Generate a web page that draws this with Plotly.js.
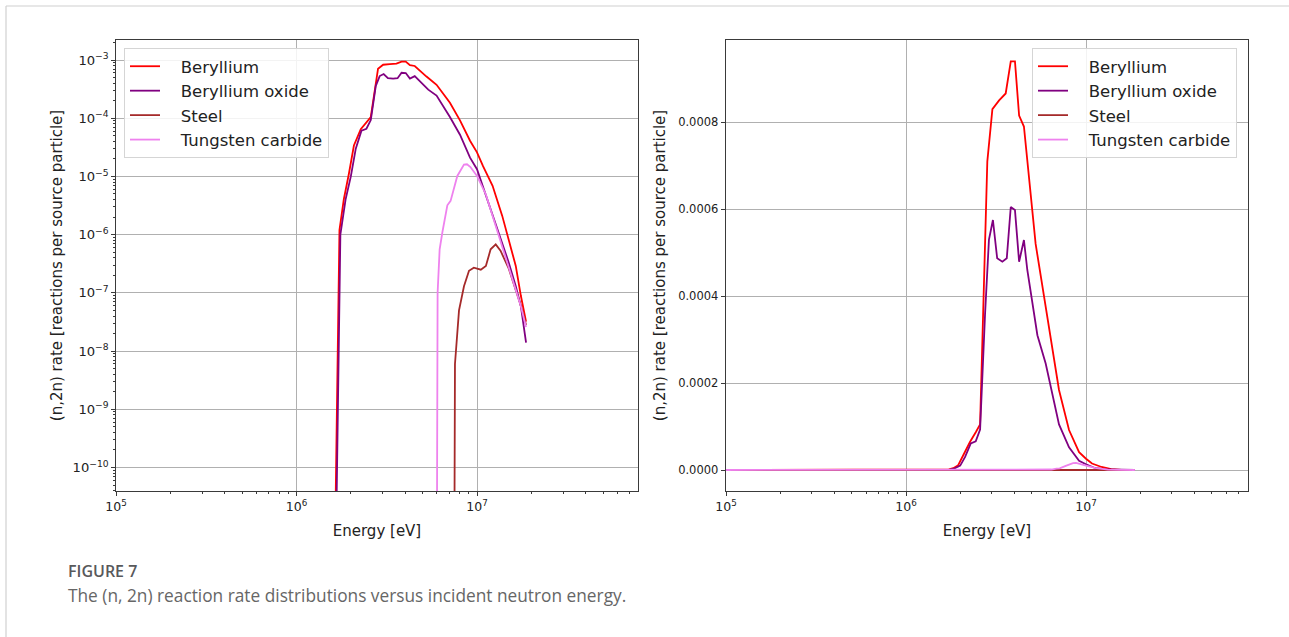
<!DOCTYPE html>
<html>
<head>
<meta charset="utf-8">
<script src="https://cdn.plot.ly/plotly-3.0.1.min.js"></script>
<style>
html,body{margin:0;padding:0;background:#fff;}
#chart{width:1289px;height:637px;}
</style>
</head>
<body>
<div id="chart"></div>
<script>
// ---- Data (energy in eV, rate in reactions per source particle) ----
const seriesNames = ["Beryllium", "Beryllium oxide", "Steel", "Tungsten carbide"];
const seriesColors = ["#ff0000", "#800080", "#a52a2a", "#ee82ee"];

const berylliumE = [1e5, 1.0e6, 1.64e6, 1.73e6, 1.83e6, 1.95e6, 2.08e6, 2.27e6, 2.45e6, 2.58e6, 2.83e6, 3.02e6, 3.29e6, 3.58e6, 3.82e6, 4.03e6, 4.25e6, 4.52e6, 5.25e6, 5.97e6, 7.08e6, 8.05e6, 9.15e6, 1.0e7, 1.08e7, 1.22e7, 1.38e7, 1.57e7, 1.64e7, 1.75e7, 1.87e7];
const berylliumRate = [0, 0, 0, 1.2e-6, 4.1e-6, 1.1e-5, 3.4e-5, 6.5e-5, 8.8e-5, 1.05e-4, 7.1e-4, 8.3e-4, 8.5e-4, 8.66e-4, 9.4e-4, 9.4e-4, 8.15e-4, 7.9e-4, 5.2e-4, 3.75e-4, 1.84e-4, 9.2e-5, 4.1e-5, 2.6e-5, 1.5e-5, 6.9e-6, 2.1e-6, 4.9e-7, 2.9e-7, 8.9e-8, 3.2e-8];

const berylliumOxideE = [1e5, 1.0e6, 1.66e6, 1.75e6, 1.87e6, 2.0e6, 2.13e6, 2.29e6, 2.44e6, 2.58e6, 2.75e6, 2.89e6, 3.04e6, 3.21e6, 3.43e6, 3.63e6, 3.82e6, 4.03e6, 4.25e6, 4.52e6, 4.72e6, 5.37e6, 5.97e6, 7.08e6, 8.05e6, 9.15e6, 1.0e7, 1.12e7, 1.32e7, 1.5e7, 1.64e7, 1.75e7, 1.87e7];
const berylliumOxideRate = [0, 0, 0, 1.0e-6, 4.0e-6, 1.0e-5, 3.0e-5, 6.1e-5, 6.6e-5, 9.3e-5, 3.6e-4, 5.3e-4, 5.75e-4, 4.87e-4, 4.79e-4, 4.87e-4, 6.05e-4, 5.98e-4, 4.79e-4, 5.29e-4, 4.6e-4, 3.1e-4, 2.45e-4, 1.05e-4, 5.2e-5, 2.1e-5, 1.33e-5, 4.7e-6, 1.1e-6, 3.3e-7, 1.3e-7, 5.9e-8, 1.4e-8];

const steelE = [1e5, 1.0e6, 7.5e6, 7.55e6, 7.95e6, 8.47e6, 9.03e6, 9.6e6, 1.05e7, 1.12e7, 1.19e7, 1.27e7, 1.35e7, 1.5e7, 1.64e7, 1.75e7, 1.87e7];
const steelRate = [0, 0, 0, 6e-9, 5e-8, 1.3e-7, 2.4e-7, 2.7e-7, 2.5e-7, 2.9e-7, 5.6e-7, 6.8e-7, 5.3e-7, 2.6e-7, 1.15e-7, 6.0e-8, 2.8e-8];

const tungstenCarbideE = [1e5, 1.0e6, 6.0e6, 6.05e6, 6.21e6, 6.43e6, 6.85e6, 7.14e6, 7.78e6, 8.47e6, 8.8e6, 9.2e6, 1.0e7, 1.12e7, 1.32e7, 1.5e7, 1.64e7, 1.75e7, 1.87e7];
const tungstenCarbideRate = [0, 0, 0, 1e-7, 5.6e-7, 1.1e-6, 3.2e-6, 3.8e-6, 1.02e-5, 1.6e-5, 1.62e-5, 1.45e-5, 1.02e-5, 4.9e-6, 9.5e-7, 2.9e-7, 1.15e-7, 5.9e-8, 2.6e-8];

const energies = [berylliumE, berylliumOxideE, steelE, tungstenCarbideE];
const rates = [berylliumRate, berylliumOxideRate, steelRate, tungstenCarbideRate];

const linearTickVals = [0, 0.0002, 0.0004, 0.0006, 0.0008];
const captionLabel = "FIGURE 7";
const captionText = "The (n, 2n) reaction rate distributions versus incident neutron energy.";
const xTitle = "Energy [eV]";
const yTitle = "(n,2n) rate [reactions per source particle]";

// zero values cannot sit on a log axis: show them at a floor below the visible range
const LOG_FLOOR = 1e-11;
// gap between legend line sample and its label
const LEGEND_PAD = "\u00a0\u00a0\u00a0";

// ---- Build traces ----
const traces = [];
for (let i = 0; i < seriesNames.length; i++) {
  traces.push({
    x: energies[i],
    y: rates[i].map(v => v > 0 ? v : LOG_FLOOR),
    type: "scatter", mode: "lines",
    name: LEGEND_PAD + seriesNames[i],
    line: {color: seriesColors[i], width: 1.8},
    xaxis: "x", yaxis: "y", legend: "legend",
    hoverinfo: "skip"
  });
}
for (let i = 0; i < seriesNames.length; i++) {
  traces.push({
    x: energies[i],
    y: rates[i],
    type: "scatter", mode: "lines",
    name: LEGEND_PAD + seriesNames[i],
    line: {color: seriesColors[i], width: 1.8},
    xaxis: "x2", yaxis: "y2", legend: "legend2",
    hoverinfo: "skip"
  });
}

const W = 1289, H = 637;
const px = v => v / W;
const py = v => 1 - v / H;

const fontFam = "DejaVu Sans, sans-serif";
const gridColor = "#b0b0b0";
const frameColor = "#3a3a3a";

const commonX = {
  type: "log",
  dtick: 1, tick0: 0,
  exponentformat: "power",
  ticks: "outside", ticklen: 4, tickwidth: 1, tickcolor: frameColor,
  showline: true, linecolor: frameColor, linewidth: 1.3, mirror: true,
  showgrid: true, gridcolor: gridColor, gridwidth: 1,
  zeroline: false,
  tickfont: {family: fontFam, size: 10, color: "#222"},
  minor: {ticks: "outside", ticklen: 2, tickcolor: frameColor, dtick: "D1", showgrid: false},
  title: {text: xTitle, font: {family: fontFam, size: 15, color: "#222"}, standoff: 12}
};

const legendCommon = {
  xanchor: "left", yanchor: "top",
  bgcolor: "rgba(255,255,255,0.85)", bordercolor: "#d5d5d5", borderwidth: 1,
  font: {family: fontFam, size: 16.5, color: "#222"},
  itemwidth: 30, tracegroupgap: 0
};

const layout = {
  width: W, height: H,
  margin: {l: 0, r: 0, t: 0, b: 0},
  paper_bgcolor: "#ffffff",
  plot_bgcolor: "#ffffff",
  showlegend: true,
  xaxis: Object.assign({}, commonX, {
    domain: [px(116), px(638)], range: [5, 7.892], anchor: "y"
  }),
  yaxis: {
    type: "log", domain: [py(491), py(40)], range: [-10.404, -2.656], anchor: "x",
    dtick: 1, exponentformat: "power",
    ticks: "outside", ticklen: 4, tickwidth: 1, tickcolor: frameColor,
    showline: true, linecolor: frameColor, linewidth: 1.3, mirror: true,
    showgrid: true, gridcolor: gridColor, gridwidth: 1, zeroline: false,
    tickfont: {family: fontFam, size: 10.5, color: "#222"},
    minor: {ticks: "outside", ticklen: 2, tickcolor: frameColor, dtick: "D1", showgrid: false},
    title: {text: yTitle, font: {family: fontFam, size: 15, color: "#222"}, standoff: 6}
  },
  xaxis2: Object.assign({}, commonX, {
    domain: [px(726), px(1248)], range: [5, 7.9], anchor: "y2"
  }),
  yaxis2: {
    type: "linear", domain: [py(491), py(40)], range: [-0.0000483, 0.000989], anchor: "x2",
    tickvals: linearTickVals, tickformat: ".4f",
    ticks: "outside", ticklen: 4, tickwidth: 1, tickcolor: frameColor,
    showline: true, linecolor: frameColor, linewidth: 1.3, mirror: true,
    showgrid: true, gridcolor: gridColor, gridwidth: 1, zeroline: false,
    tickfont: {family: fontFam, size: 11.5, color: "#222"},
    title: {text: yTitle, font: {family: fontFam, size: 15, color: "#222"}, standoff: 9}
  },
  legend: Object.assign({}, legendCommon, {x: px(124), y: py(48)}),
  legend2: Object.assign({}, legendCommon, {x: px(1032), y: py(48)}),
  shapes: [
    {type: "line", xref: "paper", yref: "paper", x0: px(6), x1: 1, y0: py(6), y1: py(6), line: {color: "#d0d0d0", width: 1.2}},
    {type: "line", xref: "paper", yref: "paper", x0: px(6), x1: px(6), y0: py(6), y1: 0, line: {color: "#d0d0d0", width: 1.2}}
  ],
  annotations: [
    {text: captionLabel, xref: "paper", yref: "paper", x: px(66), y: py(571), xanchor: "left", yanchor: "middle",
     showarrow: false, font: {family: "Open Sans, sans-serif", size: 16, color: "#58595b", weight: 600}},
    {text: captionText, xref: "paper", yref: "paper", x: px(66), y: py(595), xanchor: "left", yanchor: "middle",
     showarrow: false, font: {family: "Open Sans, sans-serif", size: 17.3, color: "#666666"}}
  ]
};

Plotly.newPlot("chart", traces, layout, {displayModeBar: false, staticPlot: true});
</script>
</body>
</html>
